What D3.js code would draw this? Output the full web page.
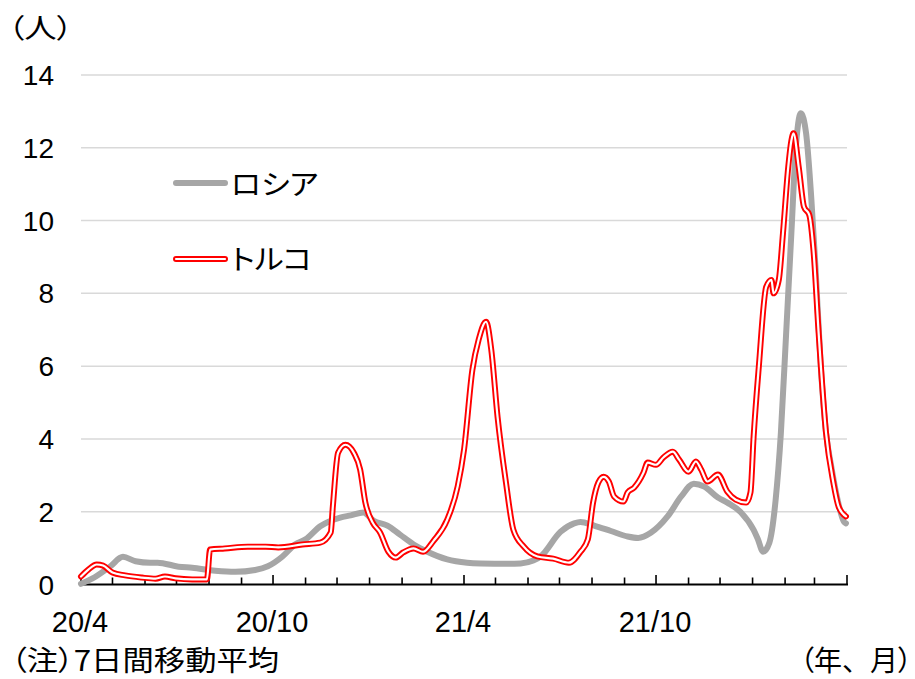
<!DOCTYPE html>
<html>
<head>
<meta charset="utf-8">
<script src="https://cdn.jsdelivr.net/npm/d3@7/dist/d3.min.js"></script>
<style>
  html, body { margin: 0; padding: 0; background: #fff; }
  svg { display: block; }
  .num { font-family: "Liberation Sans", Arial, sans-serif; fill: #000; }
  .jp { font-family: "Noto Sans CJK JP", sans-serif; fill: #000; font-feature-settings: "palt"; }
  .full { font-feature-settings: normal; }
</style>
</head>
<body>
<svg id="chart" width="915" height="679"></svg>
<script>
// New cases per day, 7-day moving average (persons)
const russiaDates = [
  "2020-04-01","2020-04-14","2020-04-29","2020-05-11","2020-05-23","2020-06-06","2020-06-13",
  "2020-07-03","2020-07-16","2020-08-07","2020-08-26","2020-09-14","2020-09-26","2020-10-10",
  "2020-10-22","2020-11-01","2020-11-15","2020-12-04","2020-12-14","2020-12-26","2021-01-05",
  "2021-01-18","2021-01-30","2021-02-12","2021-02-25","2021-03-16","2021-04-04","2021-04-17",
  "2021-05-13","2021-05-25","2021-06-06","2021-06-13","2021-07-02","2021-07-15","2021-07-21",
  "2021-08-03","2021-08-19","2021-09-04","2021-09-14","2021-09-26","2021-10-12","2021-10-25",
  "2021-11-06","2021-11-16","2021-11-29","2021-12-08","2021-12-21","2022-01-02","2022-01-06",
  "2022-01-11","2022-01-17","2022-01-23","2022-01-28","2022-02-02","2022-02-07","2022-02-11",
  "2022-02-16","2022-02-21","2022-02-26","2022-03-02","2022-03-07","2022-03-12","2022-03-17",
  "2022-03-23","2022-03-29","2022-03-31"
];
const russiaValues = [
  0.02, 0.2, 0.5, 0.76, 0.64, 0.6, 0.6,
  0.49, 0.46, 0.38, 0.35, 0.4, 0.5, 0.77,
  1.1, 1.24, 1.6, 1.84, 1.9, 1.98, 1.75,
  1.62, 1.37, 1.1, 0.9, 0.69, 0.6, 0.58,
  0.57, 0.58, 0.66, 0.77, 1.45, 1.68, 1.72,
  1.62, 1.47, 1.32, 1.28, 1.42, 1.87, 2.42,
  2.77, 2.69, 2.39, 2.25, 1.98, 1.5, 1.25,
  0.9, 1.15, 2.33, 4.17, 6.9, 9.66, 11.9,
  12.95, 12.4, 10.6, 8.7, 6.0, 4.17, 3.24,
  2.33, 1.73, 1.68
];

const turkeyDates = [
  "2020-04-01","2020-04-08","2020-04-16","2020-04-22","2020-05-01","2020-05-13","2020-05-29",
  "2020-06-11","2020-06-20","2020-06-30","2020-07-16","2020-07-28","2020-07-30","2020-08-02",
  "2020-08-16","2020-09-07","2020-09-24","2020-10-06","2020-10-29","2020-11-15","2020-11-25",
  "2020-11-27","2020-12-02","2020-12-09","2020-12-17","2020-12-23","2020-12-28","2021-01-04",
  "2021-01-11","2021-01-19","2021-01-26","2021-02-02","2021-02-12","2021-02-21","2021-03-03",
  "2021-03-16","2021-03-26","2021-04-01","2021-04-09","2021-04-15","2021-04-22","2021-04-27",
  "2021-05-03","2021-05-11","2021-05-18","2021-05-28","2021-06-10","2021-06-25","2021-07-10",
  "2021-07-21","2021-07-28","2021-08-02","2021-08-07","2021-08-12","2021-08-17","2021-08-22",
  "2021-08-31","2021-09-04","2021-09-10","2021-09-19","2021-09-23","2021-10-01","2021-10-08",
  "2021-10-17","2021-10-23","2021-11-01","2021-11-08","2021-11-13","2021-11-19","2021-11-29",
  "2021-12-08","2021-12-16","2021-12-26","2021-12-30","2022-01-02","2022-01-07","2022-01-14",
  "2022-01-19","2022-01-21","2022-01-26","2022-01-30","2022-02-04","2022-02-07","2022-02-09",
  "2022-02-14","2022-02-19","2022-02-24","2022-02-28","2022-03-05","2022-03-12","2022-03-19",
  "2022-03-24","2022-03-31"
];
const turkeyValues = [
  0.22, 0.41, 0.55, 0.52, 0.33, 0.25, 0.19,
  0.16, 0.22, 0.17, 0.14, 0.14, 0.14, 0.96,
  0.99, 1.04, 1.04, 1.02, 1.1, 1.15, 1.43,
  2.14, 3.62, 3.84, 3.62, 3.16, 2.25, 1.7,
  1.43, 0.9, 0.74, 0.88, 0.99, 0.9, 1.2,
  1.78, 2.7, 3.7, 5.9, 6.73, 7.22, 6.45,
  4.6, 2.8, 1.51, 1.04, 0.77, 0.71, 0.6,
  0.9, 1.24, 2.25, 2.8, 2.96, 2.83, 2.42,
  2.28, 2.53, 2.66, 3.07, 3.35, 3.29, 3.49,
  3.65, 3.43, 3.1, 3.38, 3.16, 2.83, 3.02,
  2.55, 2.33, 2.25, 2.53, 4.06, 6.0, 8.18,
  8.37, 8.0, 8.37, 9.66, 11.47, 12.2, 12.4,
  11.47, 10.38, 10.16, 9.2, 6.9, 4.17, 2.8,
  2.14, 1.87
];

const seriesNames = ["ロシア", "トルコ"];
const yTicks = [0, 2, 4, 6, 8, 10, 12, 14];
const xLabelDates = ["2020-04-01", "2020-10-01", "2021-04-01", "2021-10-01"];
const xLabels = ["20/4", "20/10", "21/4", "21/10"];
const xDomain = ["2020-04-01", "2022-04-01"];
const yUnit = "（人）";
const xUnitParts = ["（", "年、月", "）"];
const note = "（注）7日間移動平均";

const parse = d3.timeParse("%Y-%m-%d");
const svg = d3.select("#chart");

const x = d3.scaleTime().domain(xDomain.map(parse)).range([81, 847]);
const y = d3.scaleLinear().domain([0, 14]).range([584.5, 75]);

// horizontal gridlines
svg.append("g").selectAll("line").data(yTicks.filter(v => v > 0)).join("line")
  .attr("x1", 81).attr("x2", 847)
  .attr("y1", d => y(d)).attr("y2", d => y(d))
  .attr("stroke", "#d9d9d9").attr("stroke-width", 1.5);

// y tick labels
svg.append("g").selectAll("text").data(yTicks).join("text")
  .attr("class", "num")
  .attr("x", 54).attr("y", d => y(d) + 10)
  .attr("text-anchor", "end")
  .attr("font-size", 28)
  .text(d => d);

// x axis: monthly minor ticks, half-yearly major ticks, pointing up
const months = d3.timeMonth.range(parse(xDomain[0]), d3.timeDay.offset(parse(xDomain[1]), 1));
const xAxis = svg.append("g");
xAxis.selectAll("line.tick").data(months).join("line")
  .attr("class", "tick")
  .attr("x1", d => x(d)).attr("x2", d => x(d))
  .attr("y1", y(0))
  .attr("y2", d => (d.getMonth() % 6 === 3) ? y(0) - 9.5 : y(0) - 7)
  .attr("stroke", "#000").attr("stroke-width", 1.6);
xAxis.append("line")
  .attr("x1", 80).attr("x2", 848)
  .attr("y1", y(0)).attr("y2", y(0))
  .attr("stroke", "#000").attr("stroke-width", 2);

svg.append("g").selectAll("text").data(xLabelDates).join("text")
  .attr("class", "num")
  .attr("x", d => x(parse(d)) - 1).attr("y", 632)
  .attr("text-anchor", "middle")
  .attr("font-size", 29)
  .text((d, i) => xLabels[i]);

// series
const russia = russiaDates.map((d, i) => ({ date: parse(d), value: russiaValues[i] }));
const turkey = turkeyDates.map((d, i) => ({ date: parse(d), value: turkeyValues[i] }));
const line = d3.line().x(d => x(d.date)).y(d => y(d.value)).curve(d3.curveMonotoneX);

svg.append("path").datum(russia)
  .attr("d", line)
  .attr("fill", "none").attr("stroke", "#a6a6a6").attr("stroke-width", 6)
  .attr("stroke-linejoin", "round").attr("stroke-linecap", "round");

// Turkey: red double line (red stroke with a white core)
svg.append("path").datum(turkey)
  .attr("d", line)
  .attr("fill", "none").attr("stroke", "#ff0000").attr("stroke-width", 6)
  .attr("stroke-linejoin", "round").attr("stroke-linecap", "round");
svg.append("path").datum(turkey)
  .attr("d", line)
  .attr("fill", "none").attr("stroke", "#ffffff").attr("stroke-width", 2.2)
  .attr("stroke-linejoin", "round").attr("stroke-linecap", "round");

// legend
const legend = svg.append("g");
legend.append("line").attr("x1", 176).attr("x2", 225).attr("y1", 183).attr("y2", 183)
  .attr("stroke", "#a6a6a6").attr("stroke-width", 6).attr("stroke-linecap", "round");
legend.append("line").attr("x1", 176).attr("x2", 225).attr("y1", 259).attr("y2", 259)
  .attr("stroke", "#ff0000").attr("stroke-width", 6).attr("stroke-linecap", "round");
legend.append("line").attr("x1", 176).attr("x2", 225).attr("y1", 259).attr("y2", 259)
  .attr("stroke", "#ffffff").attr("stroke-width", 2.2).attr("stroke-linecap", "round");
legend.selectAll("text").data(seriesNames).join("text")
  .attr("class", "jp")
  .attr("transform", (d, i) => `translate(231,${i === 0 ? 195 : 270}) scale(1.1,1)`)
  .attr("font-size", 28)
  .text(d => d);

// unit labels and note
svg.append("text").attr("class", "jp")
  .attr("transform", "translate(8,38) scale(1.2,1)")
  .attr("font-size", 27).text(yUnit);

const unit = svg.append("text").attr("class", "jp")
  .attr("transform", "translate(912,671)")
  .attr("text-anchor", "end").attr("font-size", 28);
unit.selectAll("tspan").data(xUnitParts).join("tspan")
  .attr("class", (d, i) => i === 1 ? "full" : null)
  .text(d => d);

svg.append("text").attr("class", "jp")
  .attr("transform", "translate(11,671) scale(1.12,1)")
  .attr("font-size", 28).text(note);
</script>
</body>
</html>
